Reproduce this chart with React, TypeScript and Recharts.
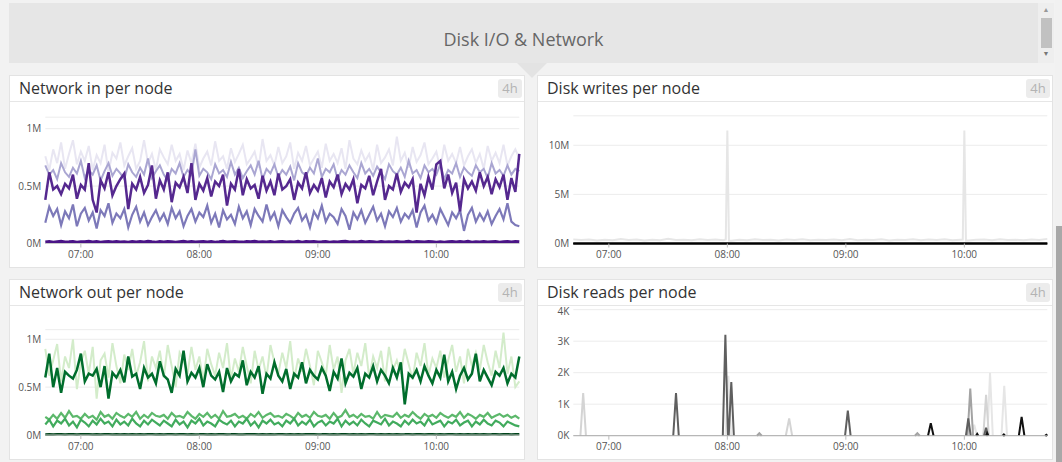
import { LineChart, Line, XAxis, YAxis, CartesianGrid } from 'recharts';

const FONT = '"Open Sans", "Noto Sans", sans-serif';

// time axis in minutes since midnight, 06:42 -> 10:42, one sample every 2 min
const TIME_START = 402;
const TIME_END = 642;
const HOUR_TICKS = [420, 480, 540, 600];
const TIMES = Array.from({ length: 121 }, (_, i) => TIME_START + i * 2);

// Network in per node (K)
const IN_TOP = [
  760, 640, 820, 700, 880, 650, 780, 900, 690, 800,
  720, 850, 640, 770, 700, 860, 620, 790, 740, 880,
  680, 760, 830, 650, 720, 900, 700, 780, 640, 820,
  750, 690, 860, 720, 780, 640, 810, 700, 870, 660,
  740, 800, 680, 890, 720, 760, 650, 830, 710, 780,
  860, 690, 740, 800, 660, 910, 720, 770, 680, 840,
  700, 760, 880, 650, 790, 720, 850, 680, 740, 800,
  660, 870, 720, 780, 700, 830, 650, 900, 740, 690,
  810, 720, 780, 640, 860, 700, 750, 820, 680, 930,
  720, 790, 660, 840, 710, 770, 880, 690, 740, 800,
  650, 860, 720, 780, 700, 840, 680, 760, 820, 700,
  780, 650, 850, 720, 790, 700, 860, 680, 760, 820,
  740,
];
const IN_LIGHT = [
  680, 600, 640, 560, 700, 620, 580, 660, 610, 720,
  570, 640, 600, 680, 550, 630, 700, 590, 650, 610,
  560, 690, 620, 580, 660, 600, 740, 570, 630, 680,
  600, 550, 650, 610, 700, 580, 640, 600, 820, 590,
  650, 620, 560, 690, 610, 640, 580, 710, 600, 660,
  570, 630, 680, 600, 720, 560, 650, 610, 690, 580,
  640, 600, 670, 550, 700, 620, 590, 660, 610, 740,
  580, 650, 620, 690, 560, 640, 600, 680, 620, 570,
  700, 610, 650, 590, 670, 620, 560, 690, 630, 600,
  660, 580, 720, 610, 640, 570, 680, 620, 650, 600,
  690, 560, 640, 610, 700, 580, 660, 620, 590, 680,
  620, 650, 570, 700, 610, 640, 590, 680, 600, 650,
  630,
];
const IN_MID = [
  180, 320, 240, 300, 160, 280, 220, 340, 150, 260,
  310, 200, 270, 130, 290, 240, 350, 180, 260, 220,
  300, 140, 250, 320, 190, 270, 160, 230, 290, 200,
  260, 170, 310, 220, 280, 150, 240, 300, 190, 270,
  230, 330, 180, 260, 140, 290, 210, 250, 170, 320,
  220, 280, 160, 300, 240, 190, 340, 210, 270, 150,
  290, 230, 180, 260, 310, 200, 250, 140, 280, 220,
  330, 190, 260, 230, 170, 300, 240, 120, 270, 210,
  290, 180, 250, 320, 200, 260, 150, 280, 230, 310,
  190, 260, 220, 290, 140, 270, 330, 200, 250, 180,
  300, 230, 160, 270, 220, 290, 110, 250, 310, 190,
  260, 200, 280, 170, 240, 300, 210, 350, 190, 160,
  150,
];
const IN_DARK = [
  380, 620, 470, 500, 430, 520, 480, 600, 390, 510,
  470, 700, 380, 270, 550, 480, 620, 420, 500, 560,
  610, 300, 520, 470, 580, 440, 510, 680, 390, 550,
  470, 620, 360, 530, 490, 580, 440, 700, 380, 520,
  460, 570, 410, 540, 500, 600, 330, 520, 470, 650,
  420, 560, 480, 510, 390, 590, 460, 540, 420, 610,
  470, 500, 560, 380, 530, 480, 620, 440, 510, 460,
  570, 400, 540, 490, 600, 430, 520, 470, 560, 350,
  510, 480, 590, 420, 540, 650, 380, 500, 470, 610,
  450, 530, 490, 560, 270, 520, 420, 580, 470, 690,
  720, 480, 600, 440, 530, 280, 560, 480, 540, 460,
  620, 500, 580, 430, 560, 490, 600, 380, 570, 450,
  780,
];
const IN_ZERO = [
  14, 17, 12, 16, 19, 13, 15, 18, 12, 16,
  15, 19, 13, 17, 12, 16, 18, 14, 17, 13,
  16, 12, 18, 14, 17, 13, 19, 15, 12, 17,
  13, 18, 15, 12, 16, 19, 14, 17, 13, 16,
  18, 14, 17, 12, 15, 19, 13, 16, 18, 14,
  12, 17, 15, 19, 13, 16, 14, 18, 12, 15,
  17, 13, 16, 14, 19, 12, 18, 15, 17, 13,
  15, 18, 12, 16, 14, 17, 19, 13, 16, 14,
  19, 13, 17, 15, 12, 18, 14, 16, 13, 17,
  14, 16, 19, 12, 17, 15, 13, 18, 16, 12,
  16, 12, 15, 18, 13, 17, 14, 19, 12, 16,
  13, 17, 14, 16, 18, 12, 15, 17, 14, 18,
  15,
];

// Network out per node (K)
const OUT_LIGHT = [
  900, 620, 780, 950, 560, 820, 700, 1000, 480, 760,
  880, 640, 920, 380, 780, 850, 600, 960, 720, 540,
  840, 680, 900, 620, 760, 980, 560, 820, 700, 880,
  600, 940, 720, 500, 860, 780, 640, 920, 680, 820,
  560, 900, 740, 620, 860, 700, 960, 580, 800, 660,
  920, 720, 540, 880, 680, 820, 600, 940, 760, 640,
  860, 700, 980, 580, 800, 660, 900, 720, 520, 880,
  760, 620, 940, 680, 820, 440, 780, 900, 640, 860,
  720, 960, 600, 820, 700, 880, 560, 920, 680, 780,
  640, 900, 740, 580, 860, 720, 960, 620, 800, 700,
  880, 600, 780, 940, 660, 820, 540, 900, 720, 860,
  680, 940, 760, 620, 880, 700, 1070, 640, 820, 500,
  560,
];
const OUT_DARK = [
  600, 850, 500, 700, 440, 660, 620, 590, 680, 850,
  560, 640, 620, 690, 500, 720, 380, 650, 600, 680,
  550, 820, 610, 640, 480, 700, 600, 640, 540, 770,
  620, 580, 440, 690, 620, 880, 560, 650, 600, 700,
  500, 740, 620, 580, 660, 450, 700, 560, 640, 610,
  780, 520, 660, 600, 720, 430, 640, 590, 760, 620,
  560, 690, 480, 640, 600, 760, 540, 680, 620, 580,
  700, 620, 460, 660, 590, 800, 540, 650, 610, 700,
  480, 640, 600, 720, 560, 680, 620, 540, 700, 600,
  760, 320, 640, 600, 680, 560, 720, 620, 540, 680,
  600, 840, 560, 660, 480, 620, 700, 580, 640, 850,
  560, 680, 600, 520, 660, 620, 700, 540, 640, 600,
  820,
];
const OUT_MID_A = [
  110, 160, 90, 150, 120, 170, 100, 140, 80, 160,
  130, 90, 150, 110, 170, 120, 140, 90, 160, 110,
  140, 100, 170, 120, 90, 150, 110, 160, 130, 100,
  150, 120, 90, 160, 110, 140, 80, 150, 120, 170,
  100, 140, 120, 90, 160, 130, 110, 150, 90, 140,
  120, 170, 100, 140, 80, 150, 120, 160, 110, 130,
  90, 150, 120, 170, 100, 140, 110, 160, 90, 130,
  150, 100, 140, 120, 170, 90, 150, 110, 140, 100,
  160, 120, 90, 150, 130, 110, 170, 100, 140, 120,
  90, 150, 110, 160, 120, 140, 100, 170, 110, 130,
  150, 90, 140, 120, 160, 100, 130, 150, 90, 140,
  110, 160, 120, 100, 150, 130, 90, 140, 120, 100,
  90,
];
const OUT_MID_B = [
  190, 160, 210, 170, 230, 180, 250, 190, 200, 170,
  220, 180, 200, 160, 240, 190, 210, 170, 230, 200,
  180, 220, 190, 240, 170, 210, 180, 230, 200, 190,
  210, 170, 230, 190, 200, 180, 240, 200, 170, 220,
  190, 230, 180, 210, 170, 250, 190, 200, 220, 180,
  200, 170, 220, 190, 240, 180, 210, 230, 190, 200,
  180, 220, 200, 170, 230, 190, 210, 180, 240, 200,
  190, 210, 170, 230, 180, 200, 260, 190, 210, 180,
  220, 190, 200, 170, 240, 180, 210, 200, 190, 230,
  180, 210, 190, 240, 200, 170, 220, 190, 210, 180,
  230, 200, 180, 210, 190, 240, 180, 220, 200, 170,
  210, 190, 230, 180, 200, 220, 190, 210, 180, 200,
  170,
];
const OUT_ZERO = [
  6, 8, 5, 7, 9, 6, 7, 8, 5, 7,
  7, 9, 6, 8, 5, 7, 8, 6, 8, 6,
  8, 5, 9, 6, 8, 6, 9, 7, 5, 8,
  6, 9, 7, 5, 7, 9, 6, 8, 6, 7,
  9, 6, 8, 5, 7, 9, 6, 7, 9, 6,
  5, 8, 7, 9, 6, 7, 6, 9, 5, 7,
  8, 6, 7, 6, 9, 5, 9, 7, 8, 6,
  7, 9, 5, 7, 6, 8, 9, 6, 7, 6,
  9, 6, 8, 7, 5, 9, 6, 7, 6, 8,
  6, 7, 9, 5, 8, 7, 6, 9, 7, 5,
  7, 5, 7, 9, 6, 8, 6, 9, 5, 7,
  6, 8, 6, 7, 9, 5, 7, 8, 6, 9,
  7,
];

// Disk writes per node (M), [minute, value]
const WRITES_LIGHT = [
  [402, 0.42], [406, 0.35], [410, 0.4], [414, 0.3], [418, 0.38], [422, 0.33], [426, 0.45],
  [430, 0.36], [434, 0.41], [438, 0.3], [442, 0.37], [446, 0.34], [450, 0.48], [454, 0.35],
  [458, 0.39], [462, 0.32], [466, 0.43], [470, 0.36], [474, 0.4], [478, 0.34], [479.2, 0.4],
  [480, 11.5], [480.8, 0.3], [482, 0.28], [486, 0.37], [490, 0.33], [494, 0.42], [498, 0.35],
  [502, 0.39], [506, 0.31], [510, 0.4], [514, 0.36], [518, 0.44], [522, 0.33], [526, 0.38],
  [530, 0.35], [534, 0.41], [538, 0.32], [542, 0.46], [546, 0.34], [550, 0.39], [554, 0.36],
  [558, 0.42], [562, 0.3], [566, 0.38], [570, 0.35], [574, 0.43], [578, 0.33], [582, 0.4],
  [586, 0.36], [590, 0.44], [594, 0.34], [598, 0.39], [599.2, 0.4], [600, 11.5], [600.8, 0.3],
  [602, 0.31], [606, 0.37], [610, 0.4], [614, 0.33], [618, 0.42], [622, 0.35], [626, 0.38],
  [630, 0.32], [634, 0.4], [638, 0.36], [642, 0.47],
];
const WRITES_ZERO = [[402, 0], [642, 0]];

// Disk reads per node, [minute, value]; null breaks the line between spikes
const READS_LIGHT = [
  [405.6, 0], [407, 1350], [408.4, 0], [409, null],
  [509.6, 0], [511.3, 550], [512.8, 0], [513, null],
  [609.6, 0], [611, 1300], [612.4, 0],
];
const READS_FAINT = [
  [479.1, 0], [480.5, 1900], [481.9, 0], [482, null],
  [603.6, 0], [605, 350], [606.4, 0], [607, null],
  [611.7, 0], [613, 2000], [614.4, 0], [615, null],
  [618.8, 0], [620.2, 1580], [621.6, 0],
];
const READS_MID = [
  [495, 0], [496.2, 80], [497.4, 0], [498, null],
  [575, 0], [576.2, 80], [577.4, 0], [578, null],
  [601.6, 0], [603, 1500], [604.4, 0],
];
const READS_DARK = [
  [452.6, 0], [454, 1350], [455.4, 0], [456, null],
  [477.7, 0], [479, 3200], [480.3, 0], [480.5, null],
  [480.7, 0], [482, 1700], [483.3, 0], [484, null],
  [539.6, 0], [541, 800], [542.4, 0], [543, null],
  [600.8, 0], [602, 550], [603.2, 0], [604, null],
  [610, 0], [611, 250], [612, 0],
];
const READS_BLACK = [
  [581.6, 0], [583, 400], [584.4, 0], [585, null],
  [605.9, 0], [606.5, 60], [607.1, 0], [608, null],
  [610.9, 0], [611.5, 80], [612.1, 0], [613, null],
  [619.4, 0], [620, 40], [620.6, 0], [621, null],
  [627.6, 0], [629, 600], [630.4, 0], [631, null],
  [640.9, 0], [641.5, 30], [642, 0],
];

const pts = (pairs: (number | null)[][]) => pairs.map(([t, v]) => ({ t, v }));

const inData = TIMES.map((t, i) => ({
  t, top: IN_TOP[i], light: IN_LIGHT[i], mid: IN_MID[i], dark: IN_DARK[i], zero: IN_ZERO[i],
}));
const outData = TIMES.map((t, i) => ({
  t, light: OUT_LIGHT[i], dark: OUT_DARK[i], midA: OUT_MID_A[i], midB: OUT_MID_B[i], zero: OUT_ZERO[i],
}));

const fmtTime = (m: number) =>
  `${String(Math.floor(m / 60)).padStart(2, '0')}:${String(m % 60).padStart(2, '0')}`;

const lineProps = { type: 'linear' as const, dot: false, activeDot: false, isAnimationActive: false };

interface ChartProps {
  left: number;
  top: number;
  width: number;
  height: number;
  plotTop: number;
  plotBottom: number;
  plotLeft: number;
  domain: number[];
  ticks: number[];
  fmt: (v: number) => string;
  axisColor?: string;
  data?: any[];
  children: any;
}

function TimeChart({ left, top, width, height, plotTop, plotBottom, plotLeft, domain, ticks, fmt, axisColor = '#c8c8c8', data, children }: ChartProps) {
  return (
    <div style={{ position: 'absolute', left, top, width, height, overflow: 'hidden' }}>
      <LineChart
        width={width}
        height={height}
        data={data}
        margin={{ top: plotTop - top, right: 4.7, bottom: 0, left: 0 }}
      >
        <CartesianGrid vertical={false} stroke="#ececec" />
        <XAxis
          type="number"
          dataKey="t"
          domain={[TIME_START, TIME_END]}
          ticks={HOUR_TICKS}
          tickFormatter={fmtTime}
          height={top + height - plotBottom}
          tick={{ fill: '#555', fontSize: 10, fontFamily: FONT }}
          tickSize={4}
          tickMargin={3.5}
          axisLine={{ stroke: axisColor, strokeWidth: axisColor === '#000' ? 2 : 1 }}
          tickLine={{ stroke: '#bbb' }}
        />
        <YAxis
          type="number"
          domain={domain}
          ticks={ticks}
          tickFormatter={fmt}
          width={plotLeft - left}
          tick={{ fill: '#555', fontSize: 10, fontFamily: FONT }}
          tickSize={0}
          tickMargin={4}
          axisLine={false}
          tickLine={false}
        />
        {children}
      </LineChart>
    </div>
  );
}

function Panel({ left, top, height, title }: { left: number; top: number; height: number; title: string }) {
  return (
    <div
      style={{
        position: 'absolute', left, top, width: 516, height, boxSizing: 'border-box',
        background: '#fff', border: '1px solid #e3e3e3',
      }}
    >
      <div style={{ position: 'absolute', left: 9, top: 1, fontSize: 16, lineHeight: '22px', color: '#333', whiteSpace: 'nowrap' }}>
        {title}
      </div>
      <div
        style={{
          position: 'absolute', right: 2, top: 3, width: 24, height: 19, borderRadius: 3,
          background: '#ececec', color: '#b3b3b3', fontSize: 13, lineHeight: '19px', textAlign: 'center',
        }}
      >
        4h
      </div>
      <div style={{ position: 'absolute', left: 0, right: 0, top: 25, height: 1, background: '#e6e6e6' }} />
    </div>
  );
}

export default function App() {
  return (
    <div style={{ position: 'absolute', left: 0, top: 0, width: 1062, height: 462, background: '#f2f2f2', fontFamily: FONT, overflow: 'hidden' }}>
      {/* group header */}
      <div style={{ position: 'absolute', left: 9, top: 3, width: 1029, height: 60, background: '#e6e6e6' }}>
        <div style={{ position: 'absolute', left: 0, right: 0, top: 24, textAlign: 'center', fontSize: 18, lineHeight: '24px', color: '#666' }}>
          Disk I/O &amp; Network
        </div>
      </div>
      <div style={{ position: 'absolute', left: 1038, top: 3, width: 16, height: 60, background: '#eeeeee' }}>
        <div style={{ position: 'absolute', left: 3, top: 15, width: 11, height: 30, background: '#c1c1c1' }} />
        <div style={{ position: 'absolute', left: 0, width: 16, top: 2, fontSize: 7, color: '#999', textAlign: 'center', lineHeight: '10px' }}>▲</div>
        <div style={{ position: 'absolute', left: 0, width: 16, top: 46, fontSize: 7, color: '#777', textAlign: 'center', lineHeight: '10px' }}>▼</div>
      </div>
      <svg style={{ position: 'absolute', left: 0, top: 0 }} width={1062} height={90}>
        <polygon points="517,63 547,63 532,78" fill="#e3e3e3" />
      </svg>
      {/* page scrollbar */}
      <div style={{ position: 'absolute', left: 1055, top: 0, width: 7, height: 462, background: '#f1f1f1' }} />
      <div style={{ position: 'absolute', left: 1056, top: 226, width: 6, height: 236, background: '#a8a8a8' }} />

      <Panel left={9} top={75} height={193} title="Network in per node" />
      <Panel left={537} top={75} height={193} title="Disk writes per node" />
      <Panel left={9} top={279} height={181} title="Network out per node" />
      <Panel left={537} top={279} height={181} title="Disk reads per node" />

      <TimeChart
        left={10} top={102} width={514} height={164}
        plotTop={117.2} plotBottom={243.5} plotLeft={45.3}
        domain={[0, 1100]} ticks={[0, 500, 1000]}
        fmt={(v) => (v === 0 ? '0M' : `${v / 1000}M`)}
        data={inData}
      >
        <Line {...lineProps} dataKey="top" stroke="#e8e6f2" strokeWidth={2} />
        <Line {...lineProps} dataKey="light" stroke="#aaa6d2" strokeWidth={2} />
        <Line {...lineProps} dataKey="mid" stroke="#7d79b9" strokeWidth={2.2} />
        <Line {...lineProps} dataKey="dark" stroke="#55288f" strokeWidth={2.5} />
        <Line {...lineProps} dataKey="zero" stroke="#4a1486" strokeWidth={3} />
      </TimeChart>

      <TimeChart
        left={538} top={102} width={514} height={164}
        plotTop={115.8} plotBottom={243.5} plotLeft={573.3}
        domain={[0, 13]} ticks={[0, 5, 10]}
        fmt={(v) => `${v}M`}
        axisColor="#000"
      >
        <Line {...lineProps} data={pts(WRITES_LIGHT)} dataKey="v" stroke="#e6e6e6" strokeWidth={2} />
        <Line {...lineProps} data={pts(WRITES_ZERO)} dataKey="v" stroke="#000" strokeWidth={2} />
      </TimeChart>

      <TimeChart
        left={10} top={306} width={514} height={152.5}
        plotTop={329.7} plotBottom={435} plotLeft={45.3}
        domain={[0, 1100]} ticks={[0, 500, 1000]}
        fmt={(v) => (v === 0 ? '0M' : `${v / 1000}M`)}
        data={outData}
      >
        <Line {...lineProps} dataKey="light" stroke="#d3ecca" strokeWidth={2} />
        <Line {...lineProps} dataKey="dark" stroke="#006d2c" strokeWidth={2.5} />
        <Line {...lineProps} dataKey="midB" stroke="#5cb86b" strokeWidth={2.2} />
        <Line {...lineProps} dataKey="midA" stroke="#41ab5d" strokeWidth={2.2} />
        <Line {...lineProps} dataKey="zero" stroke="#00441b" strokeWidth={2.5} />
      </TimeChart>

      <TimeChart
        left={538} top={306} width={514} height={152.5}
        plotTop={309.7} plotBottom={435.7} plotLeft={573.3}
        domain={[0, 4000]} ticks={[0, 1000, 2000, 3000, 4000]}
        fmt={(v) => `${v / 1000}K`}
        axisColor="#aaa"
      >
        <Line {...lineProps} data={pts(READS_FAINT)} dataKey="v" stroke="#e6e6e6" strokeWidth={2} />
        <Line {...lineProps} data={pts(READS_LIGHT)} dataKey="v" stroke="#d4d4d4" strokeWidth={2} />
        <Line {...lineProps} data={pts(READS_MID)} dataKey="v" stroke="#a3a3a3" strokeWidth={2} />
        <Line {...lineProps} data={pts(READS_DARK)} dataKey="v" stroke="#5f5f5f" strokeWidth={2} />
        <Line {...lineProps} data={pts(READS_BLACK)} dataKey="v" stroke="#111" strokeWidth={2} />
      </TimeChart>
    </div>
  );
}
